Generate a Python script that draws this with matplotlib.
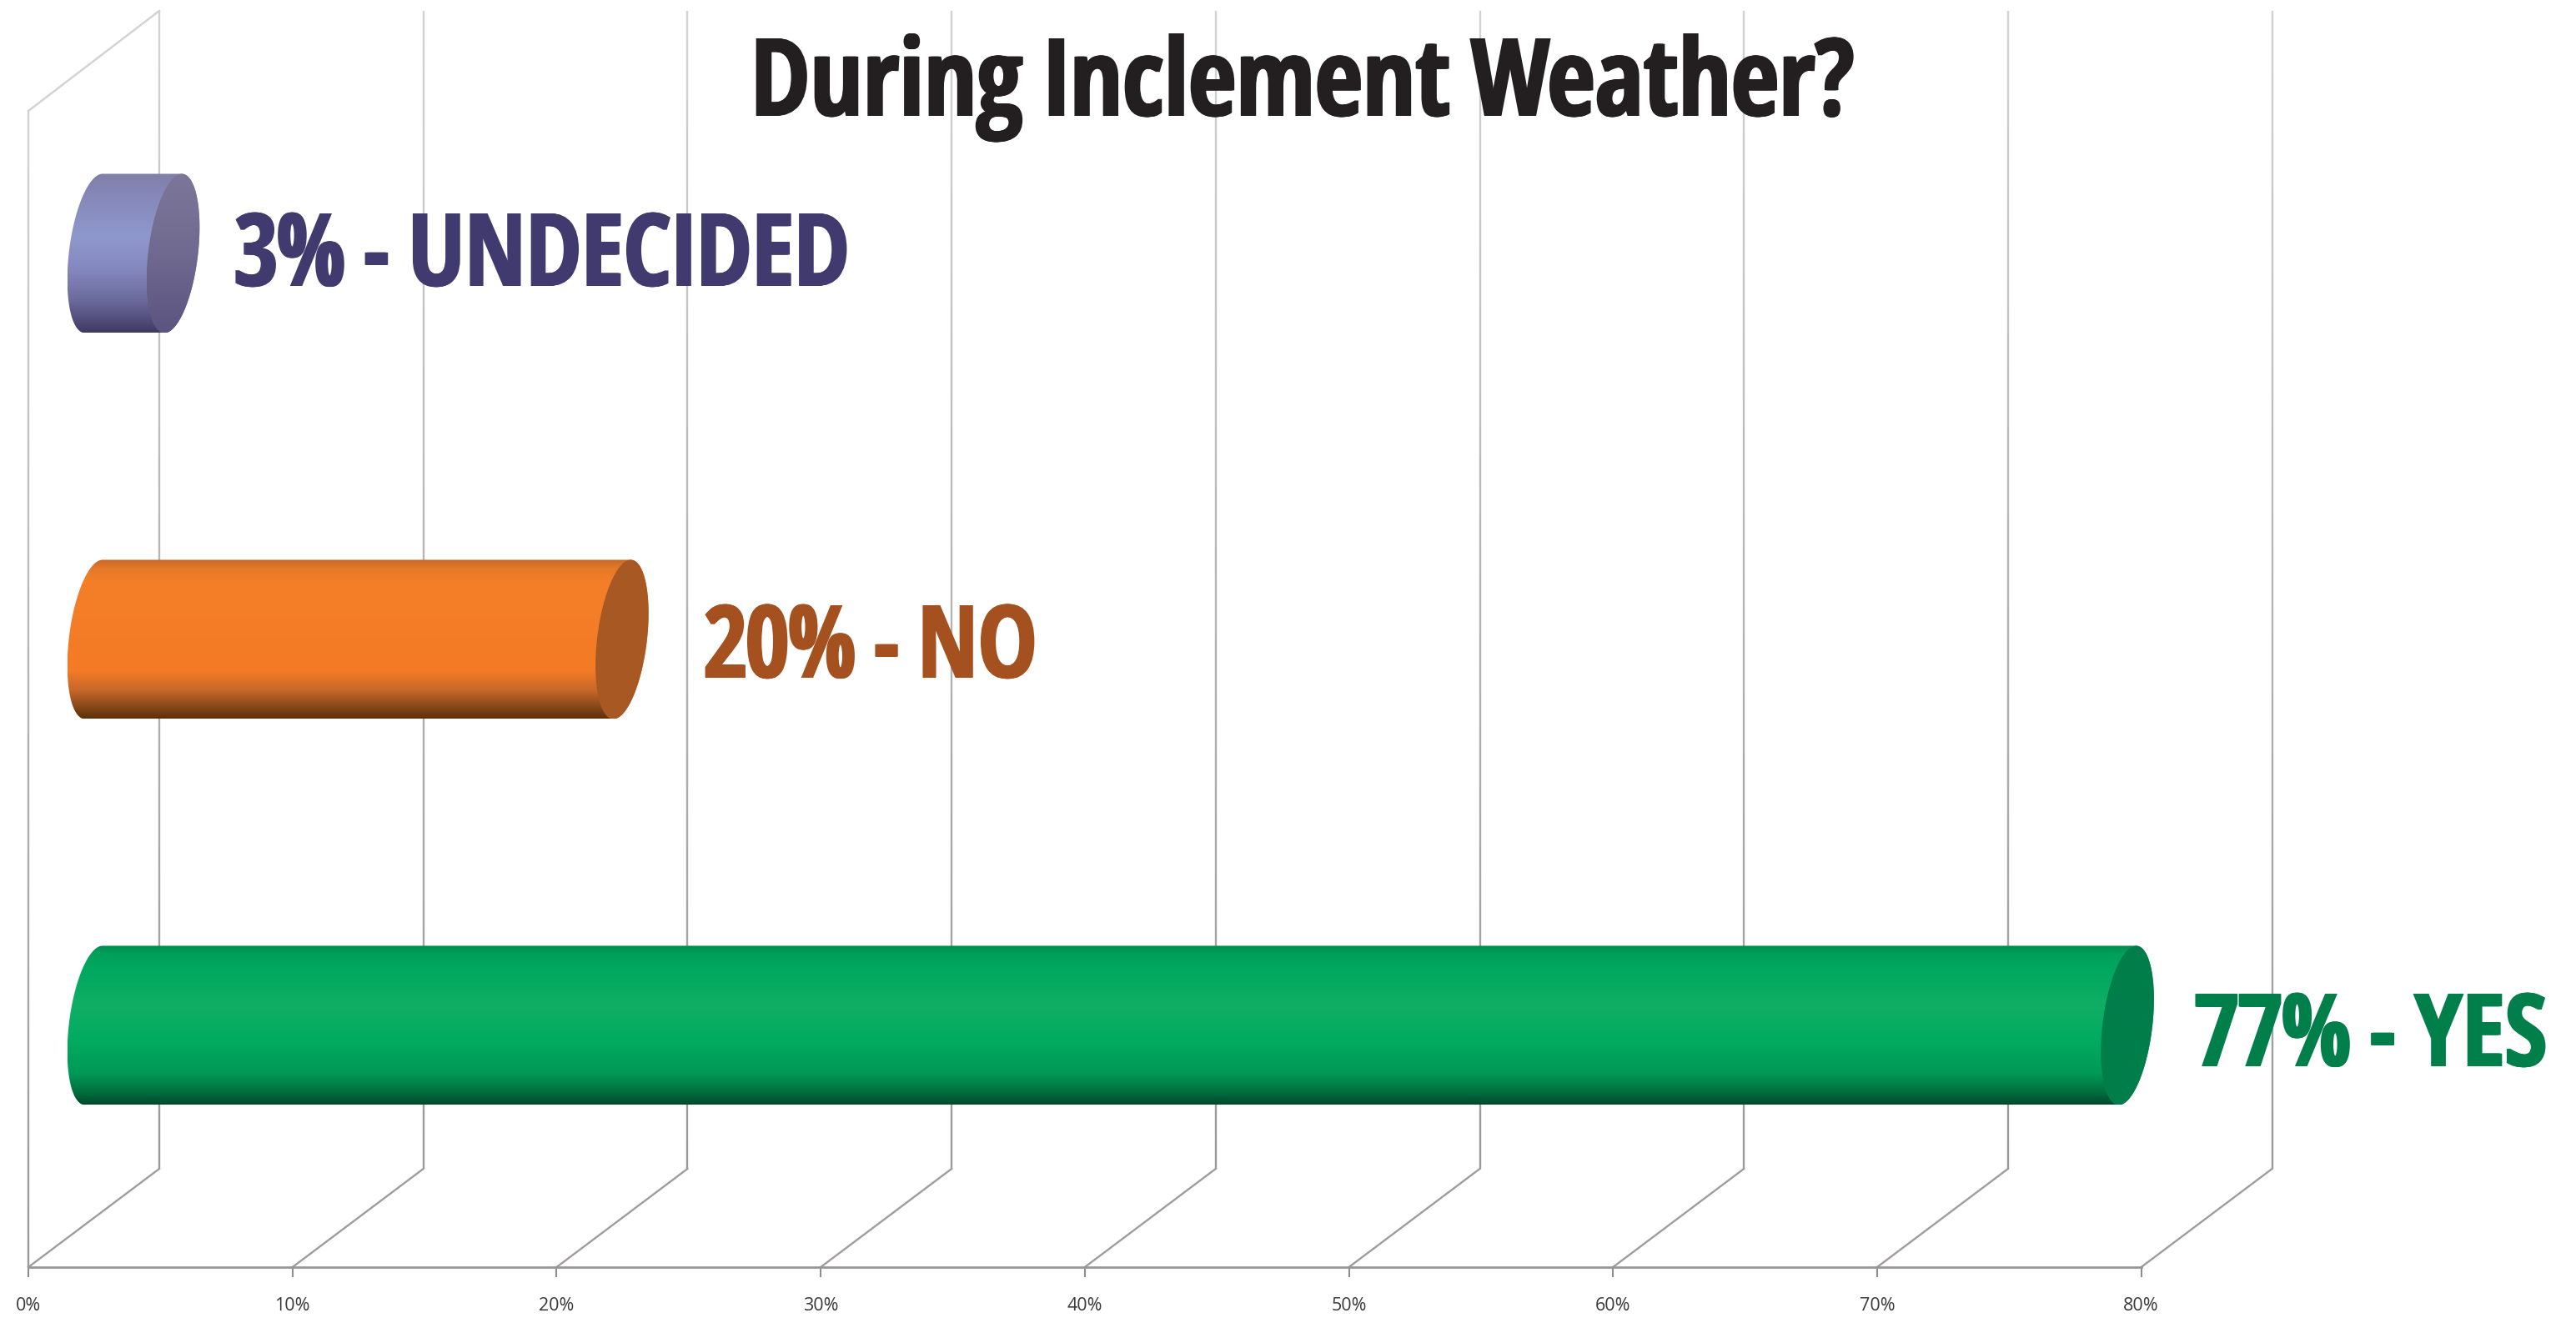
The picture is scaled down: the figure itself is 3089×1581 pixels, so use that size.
#!/usr/bin/python3
import numpy as np
import matplotlib
matplotlib.use('Agg')
import matplotlib.pyplot as plt
from matplotlib.collections import LineCollection
from matplotlib.colors import LinearSegmentedColormap
from matplotlib.font_manager import FontProperties
from matplotlib.patches import Polygon
from matplotlib.patheffects import AbstractPathEffect
from matplotlib.textpath import TextPath
from matplotlib.transforms import Affine2D

# Values, top bar first
categories = ['UNDECIDED', 'NO', 'YES']
values = [3, 20, 77]
ticks = [0, 10, 20, 30, 40, 50, 60, 70, 80]
title = 'During Inclement Weather?'

W, H = 3089, 1581
PX_PER_PCT = 31.67
PX_PER_CAT = 463
X0_PX = 34         # 0% on the front floor edge
Y0_PX = 1230       # centre of the bottom bar
FONT = ['Open Sans', 'Noto Sans', 'DejaVu Sans']

DEPTH_X = 157 / PX_PER_PCT
DEPTH_Y = 118 / PX_PER_CAT
FLOOR = (Y0_PX - 1520) / PX_PER_CAT
WALL_TOP = (Y0_PX - 13) / PX_PER_CAT
LEFT_TOP = (Y0_PX - 133) / PX_PER_CAT


def px_y(v):
    return (Y0_PX - v) / PX_PER_CAT


# No condensed font here: stretch the glyphs up from the baseline and smear stems sideways
class Condensed(AbstractPathEffect):
    def __init__(self, base_y, sy, smear):
        super().__init__()
        self.base_y, self.sy, self.smear = base_y, sy, smear

    def draw_path(self, renderer, gc, tpath, affine, rgbFace=None):
        stretch = Affine2D().translate(0, -self.base_y).scale(1, self.sy).translate(0, self.base_y)
        for dx in np.linspace(-self.smear, self.smear, 5):
            renderer.draw_path(gc, tpath, affine + stretch + Affine2D().translate(dx, 0), rgbFace)


def big_text(left_px, base_px, s, width_px, cap_px, color, smear=2):
    prop = FontProperties(family=FONT, weight='bold')
    probe = TextPath((0, 0), s, size=100, prop=prop).get_extents().width
    size_px = 100 * (width_px - 2 * smear) / probe
    cap = TextPath((0, 0), 'H', size=size_px, prop=prop).get_extents().height
    ax.text(left_px / PX_PER_PCT - X0_PX / PX_PER_PCT, px_y(base_px), s, family=FONT, fontweight='bold',
            fontsize=size_px * 0.72, color=color, ha='left', va='baseline', zorder=3,
            path_effects=[Condensed(H - base_px, cap_px / cap, smear)])


fig = plt.figure(figsize=(W / 100, H / 100), dpi=100, facecolor='white')
ax = fig.add_axes([0, 0, 1, 1])
ax.axis('off')
xlim = (-X0_PX / PX_PER_PCT, (W - X0_PX) / PX_PER_PCT)
ylim = (px_y(H), px_y(0))

# Back wall lines, they fade out towards the top
shade = LinearSegmentedColormap.from_list('wall', ['#9b9999', '#b4b4b4', '#d2d2d2'])
for t in ticks:
    x = t + DEPTH_X
    ys = np.linspace(FLOOR + DEPTH_Y, WALL_TOP, 40)
    segs = [[(x, a), (x, b)] for a, b in zip(ys[:-1], ys[1:])]
    ax.add_collection(LineCollection(segs, colors=shade(np.linspace(0, 1, 39)), linewidths=1.7, zorder=1))
    # floor slant and tick
    ax.plot([t, t + DEPTH_X], [FLOOR, FLOOR + DEPTH_Y], color='#a09c9c', lw=1.7, zorder=1)
    ax.plot([t, t], [FLOOR, px_y(1531)], color='#8f8c8c', lw=1.5, zorder=1)
    ax.text(t, px_y(1567), f'{t}%', family=FONT, fontsize=15.5, color='#3a3a3a', ha='center', va='center')

ax.plot([ticks[0], ticks[-1]], [FLOOR, FLOOR], color='#9a9696', lw=2, zorder=1)
ys = np.linspace(FLOOR, LEFT_TOP, 40)
segs = [[(0, a), (0, b)] for a, b in zip(ys[:-1], ys[1:])]
ax.add_collection(LineCollection(segs, colors=shade(np.linspace(0, 1, 39)), linewidths=1.7, zorder=1))
ax.plot([0, DEPTH_X], [LEFT_TOP, WALL_TOP], color='#d2d2d2', lw=1.7, zorder=1)

# Bar look: (fraction from top, colour)
body_stops = [
    [(0, '#807fa8'), (.1, '#8485b5'), (.4, '#8f98cc'), (.6, '#8488be'), (.8, '#6c6a9c'), (.93, '#4f4a78'), (1, '#3e3a62')],
    [(0, '#c8692a'), (.06, '#e67a28'), (.15, '#f57f28'), (.7, '#f47a26'), (.82, '#c8682a'), (.92, '#8a4a1a'), (1, '#5e300c')],
    [(0, '#008c52'), (.05, '#00a05a'), (.15, '#00a85f'), (.38, '#10ae64'), (.6, '#00ab60'), (.8, '#009a56'), (.92, '#00703f'), (1, '#004a2a')],
]
cap_stops = [
    [(0, '#7c7799'), (.5, '#706a90'), (1, '#5b5480')],
    [(0, '#a85822'), (1, '#a85822')],
    [(0, '#007e4a'), (1, '#007e4a')],
]
text_colors = ['#413a6f', '#a5501f', '#007f4b']
label_left = [281, 844, 2632]
label_base = [343, 813, 1279]
label_width = [733, 395, 420]

CAP_A = 30 / PX_PER_PCT
CAP_K = 10.5 / PX_PER_PCT
CAP_B = 95.5 / PX_PER_CAT


def cap_xy(cx, cy, t):
    return cx + CAP_A * np.cos(t) + CAP_K * np.sin(t), cy + CAP_B * np.sin(t)


def shaded(poly, stops, cy):
    patch = Polygon(poly, closed=True, transform=ax.transData, fc='none', ec='none')
    ax.add_patch(patch)
    cmap = LinearSegmentedColormap.from_list('grad', stops)
    grad = np.linspace(0, 1, 256).reshape(-1, 1)
    x = poly[:, 0]
    im = ax.imshow(grad, cmap=cmap, aspect='auto', zorder=2, interpolation='bilinear',
                   extent=(x.min(), x.max(), cy - CAP_B, cy + CAP_B), origin='upper')
    im.set_clip_path(patch)


for i, (cat, val) in enumerate(zip(categories, values)):
    cy = len(categories) - 1 - i
    left = DEPTH_X / 2
    right = left + val
    t1 = np.linspace(np.pi / 2, 3 * np.pi / 2, 80)
    t2 = np.linspace(3 * np.pi / 2, 5 * np.pi / 2, 80)
    lx, ly = cap_xy(left, cy, t1)
    rx, ry = cap_xy(right, cy, t2)
    body = np.column_stack([np.r_[lx, rx], np.r_[ly, ry]])
    shaded(body, body_stops[i], cy)
    cx, cyy = cap_xy(right, cy, np.linspace(0, 2 * np.pi, 160))
    shaded(np.column_stack([cx, cyy]), cap_stops[i], cy)

    big_text(label_left[i], label_base[i], f'{val}% - {cat}', label_width[i], 87, text_colors[i])

big_text(900, 139, title, 1316, 93, '#231f20')

ax.set_xlim(*xlim)
ax.set_ylim(*ylim)
fig.savefig('out.png', dpi=100)
